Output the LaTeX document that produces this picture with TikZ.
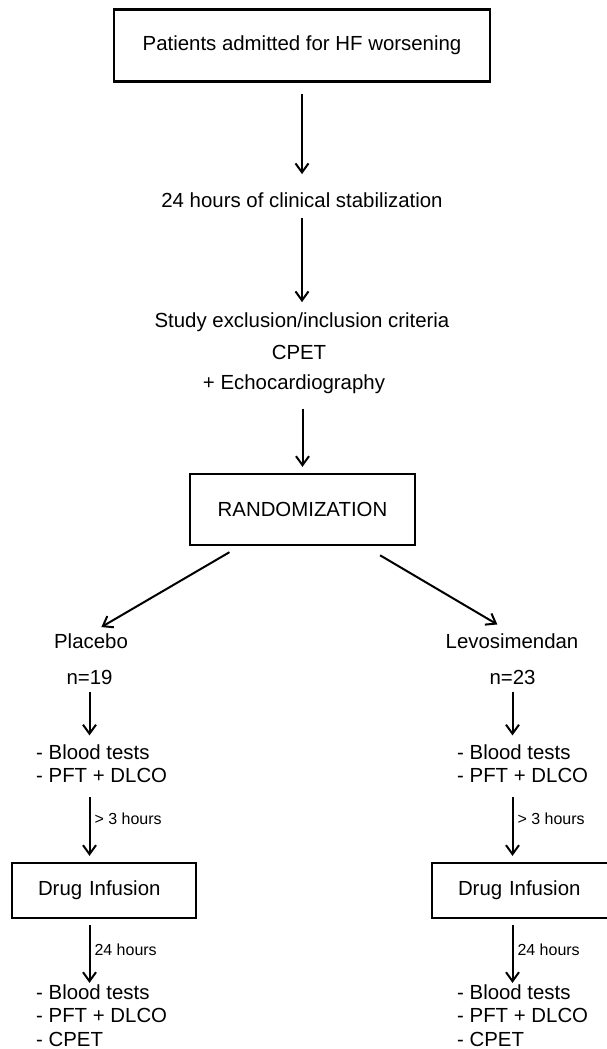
\documentclass[tikz,border=0pt]{standalone}
\usepackage{fontspec}
\setmainfont{Liberation Sans}
\usepackage{tikz}
\usetikzlibrary{arrows.meta, calc}

\begin{document}
\begin{tikzpicture}[x=1pt, y=-1pt,
        every node/.style={font=\fontsize{20.4}{24}\selectfont},
        box/.style={draw, line width=2.3pt, inner sep=0pt},
        drug/.style={box, minimum height=55pt, text width=132pt, inner xsep=26pt, align=left},
        txt/.style={inner sep=0pt, text height=15pt, text depth=4pt},
        lst/.style={inner sep=0pt, align=left, anchor=north west, font=\fontsize{20.4}{23.5}\selectfont},
        lbl/.style={right, inner sep=4pt, font=\fontsize{16}{19}\selectfont},
        arr/.style={line width=2pt, -{Straight Barb[length=9pt, width=13pt, line width=2pt]}}
    ]
        \useasboundingbox (0,0) rectangle (607,1049);

        \node[box, minimum width=376pt, minimum height=72pt] (0) at (302,45.5) {Patients admitted for HF worsening};
        \node[txt] (1) at (302,201.8) {24 hours of clinical stabilization};
        \node[txt] (2) at (302,321.8) {Study exclusion/inclusion criteria};
        \node[txt] (3) at (299,353.8) {CPET};
        \node[txt] (4) at (294,383.8) {+ Echocardiography};
        \node[box, minimum width=225pt, minimum height=71pt] (5) at (302.5,509.5) {RANDOMIZATION};

        \node[txt] (6) at (91,642.8) {Placebo};
        \node[txt] (7) at (512,642.8) {Levosimendan};
        \node[txt] (8) at (89.5,678.8) {n=19};
        \node[txt] (9) at (512.5,678.8) {n=23};
        \node[lst] (10) at (36,744.4) {- Blood tests\\- PFT + DLCO};
        \node[lst] (11) at (457,744.4) {- Blood tests\\- PFT + DLCO};
        \node[drug] (12) at (104,890.5) {Drug Infusion};
        \node[drug] (13) at (524,890.5) {Drug Infusion};
        \node[lst] (14) at (36,984.4) {- Blood tests\\- PFT + DLCO\\- CPET};
        \node[lst] (15) at (457,984.4) {- Blood tests\\- PFT + DLCO\\- CPET};

        \path[arr]
            (0) edge[shorten <=11pt, shorten >=18pt] (1)
            (1) edge[shorten <=6pt, shorten >=10pt] (2)
            (4.south -| 5) edge[shorten <=15pt, shorten >=6pt] (5)
            (5) edge[shorten <=12pt, shorten >=12pt] (6.north)
            (5) edge[shorten <=18pt, shorten >=17pt] (7.north)
            (8) edge[shorten <=3pt, shorten >=9pt] (8 |- 10.north)
            (9) edge[shorten <=3pt, shorten >=9pt] (9 |- 11.north)
            (10.south -| 8) edge[shorten <=14pt, shorten >=6pt] node[lbl, pos=0.45]{> 3 hours} (12.north -| 8)
            (11.south -| 9) edge[shorten <=14pt, shorten >=6pt] node[lbl, pos=0.45]{> 3 hours} (13.north -| 9)
            (12.south -| 8) edge[shorten <=6pt, shorten >=1.5pt] node[lbl, pos=0.47]{24 hours} (14.north -| 8)
            (13.south -| 9) edge[shorten <=6pt, shorten >=1.5pt] node[lbl, pos=0.47]{24 hours} (15.north -| 9)
            ;
    \end{tikzpicture}
\end{document}
